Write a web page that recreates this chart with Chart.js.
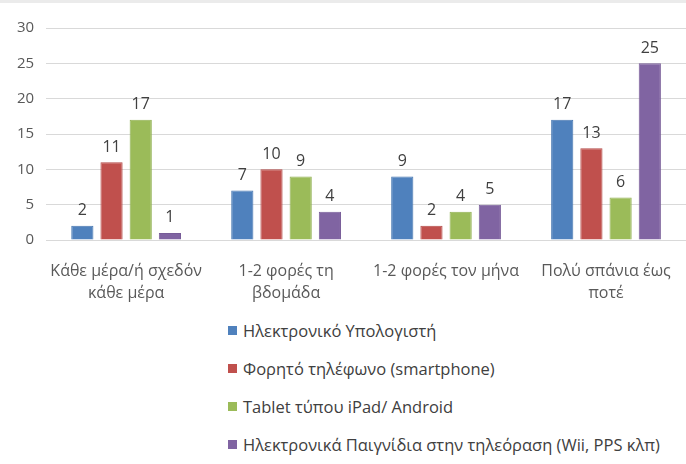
<!DOCTYPE html>
<html>
<head>
<meta charset="utf-8">
<script src="https://cdn.jsdelivr.net/npm/chart.js@4"></script>
<style>
  html, body { margin: 0; padding: 0; background: #fff; }
  body { width: 686px; height: 464px; overflow: hidden; border-top: 3px solid #ebebeb; box-sizing: border-box; }
  #wrap { position: relative; width: 686px; height: 313px; }
  #legend { list-style: none; margin: 0; padding: 0; position: absolute; left: 228px; top: 318px; }
  #legend li { height: 24px; margin-bottom: 14px; font: 16.5px "Open Sans", sans-serif; color: #404040; display: flex; align-items: center; white-space: nowrap; }
  #legend li span { display: inline-block; width: 9px; height: 9px; margin-right: 6px; }
</style>
</head>
<body>
<div id="wrap"><canvas id="chart"></canvas></div>
<ul id="legend"></ul>
<script>
// κατηγορίες
const categories = [
    ['Κάθε μέρα/ή σχεδόν', 'κάθε μέρα'],
    ['1-2 φορές τη', 'βδομάδα'],
    '1-2 φορές τον μήνα',
    ['Πολύ σπάνια έως', 'ποτέ']
];

const seriesNames = [
    'Ηλεκτρονικό Υπολογιστή',
    'Φορητό τηλέφωνο (smartphone)',
    'Tablet τύπου iPad/ Android',
    'Ηλεκτρονικά Παιγνίδια στην τηλεόραση (Wii, PPS κλπ)'
];

const computerValues = [2, 7, 9, 17];
const phoneValues = [11, 10, 2, 13];
const tabletValues = [17, 9, 4, 6];
const tvGameValues = [1, 4, 5, 25];

const yTicks = [0, 5, 10, 15, 20, 25, 30];

const colors = ['#4F81BD', '#C0504D', '#9BBB59', '#8064A2'];
const borders = ['#4576b0', '#b44a47', '#90b052', '#775c98'];

// τιμές πάνω από τις μπάρες
const valueLabels = {
    id: 'valueLabels',
    afterDatasetsDraw(chart) {
        const ctx = chart.ctx;
        ctx.save();
        ctx.font = '16px "Open Sans", sans-serif';
        ctx.fillStyle = '#404040';
        ctx.textAlign = 'center';
        ctx.textBaseline = 'bottom';
        chart.data.datasets.forEach((ds, i) => {
            chart.getDatasetMeta(i).data.forEach((bar, j) => {
                ctx.fillText(ds.data[j], bar.x, bar.y - 7);
            });
        });
        ctx.restore();
    }
};

const allValues = [computerValues, phoneValues, tabletValues, tvGameValues];

const chart = new Chart(document.getElementById('chart'), {
    type: 'bar',
    data: {
        labels: categories,
        datasets: allValues.map((vals, i) => ({
            label: seriesNames[i],
            data: vals,
            backgroundColor: colors[i],
            borderColor: borders[i],
            borderWidth: 1,
            categoryPercentage: 0.73,
            barPercentage: 0.76
        }))
    },
    options: {
        responsive: true,
        maintainAspectRatio: false,
        animation: false,
        layout: { padding: { top: 25, right: 0, left: 5, bottom: 0 } },
        plugins: {
            legend: { display: false },
            tooltip: { enabled: false }
        },
        scales: {
            x: {
                grid: { display: false },
                border: { color: '#d9d9d9' },
                ticks: {
                    color: '#595959',
                    font: { size: 16, family: '"Open Sans", sans-serif', lineHeight: 1.375 },
                    padding: 12,
                    maxRotation: 0,
                    autoSkip: false
                }
            },
            y: {
                min: 0,
                max: 30,
                afterBuildTicks(axis) {
                    axis.ticks = yTicks.map(v => ({ value: v }));
                },
                grid: { color: '#d9d9d9', drawTicks: false },
                border: { display: false },
                ticks: {
                    color: '#595959',
                    font: { size: 15, family: '"Open Sans", sans-serif' },
                    padding: 12
                }
            }
        }
    },
    plugins: [valueLabels]
});

// υπόμνημα
document.getElementById('legend').innerHTML = seriesNames.map((name, i) =>
    `<li><span style="background:${colors[i]}"></span>${name}</li>`
).join('');
</script>
</body>
</html>
